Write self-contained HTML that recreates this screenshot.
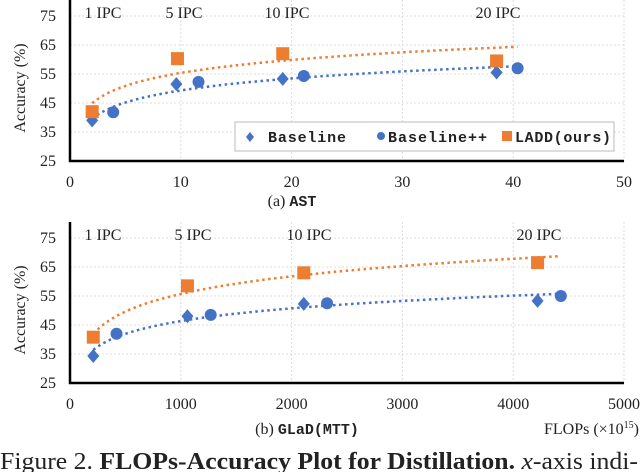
<!DOCTYPE html>
<html><head><meta charset="utf-8"><style>
html,body{margin:0;padding:0;background:#fff;width:640px;height:472px;overflow:hidden}
svg{display:block}
text{font-family:"Liberation Serif",serif;fill:#222}
.mono{font-family:"Liberation Mono",monospace;font-weight:bold}
</style></head><body>
<svg id="fig" width="640" height="472" viewBox="0 0 640 472">
<text x="0" y="469" font-size="24" textLength="638" lengthAdjust="spacingAndGlyphs">Figure 2.  <tspan font-weight="bold">FLOPs-Accuracy Plot for Distillation.</tspan>  <tspan font-style="italic">x</tspan>-axis indi-</text>
</svg>
<script>
// Chart (a) AST
const astBaseX=[2,9.6,19.2,38.5];
const astBaseY=[39,51.5,53.3,55.5];
const astPlusX=[3.9,11.6,21.1,40.4];
const astPlusY=[41.8,52.3,54.3,57];
const astLaddX=[2,9.7,19.2,38.5];
const astLaddY=[42,60.3,62,59.5];
const astXTicks=[0,10,20,30,40,50];
// Chart (b) GLaD(MTT)
const gladBaseX=[210,1060,2110,4220];
const gladBaseY=[34.3,48,52.3,53.3];
const gladPlusX=[420,1270,2320,4430];
const gladPlusY=[42,48.5,52.5,55];
const gladLaddX=[210,1060,2110,4220];
const gladLaddY=[40.8,58.5,63,66.5];
const gladXTicks=[0,1000,2000,3000,4000,5000];
const yTicks=[25,35,45,55,65,75];
const ipcLabels=["1 IPC","5 IPC","10 IPC","20 IPC"];

const NS="http://www.w3.org/2000/svg";
const svg=document.getElementById('fig');
const BLUE="#4472C4",ORANGE="#ED7D31";
function mk(tag,attrs,parent){const e=document.createElementNS(NS,tag);for(const k in attrs)e.setAttribute(k,attrs[k]);(parent||svg).appendChild(e);return e;}
function fit(xs,ys){const lx=xs.map(Math.log);const n=lx.length;const mx=lx.reduce((a,b)=>a+b)/n,my=ys.reduce((a,b)=>a+b)/n;let sxy=0,sxx=0;for(let i=0;i<n;i++){sxy+=(lx[i]-mx)*(ys[i]-my);sxx+=(lx[i]-mx)**2;}const b=sxy/sxx;return [my-b*mx,b];}

function chart(off,xmax,xT,bx,by,px,py,lx,ly,ipcX,legend,name){
  const x0=70,x1=624,yb=161+off,yt=16+off;
  const sx=v=>x0+(v/xmax)*(x1-x0);
  const sy=v=>yb-(v-25)/50*(yb-yt);
  const g=mk('g',{});
  
  
  xT.forEach(t=>{ if(t>0){const l=mk('line',{x1:sx(t),x2:sx(t),y1:off,y2:yb,stroke:'#ddd','stroke-width':1,'stroke-dasharray':'2,2'},g);}
    const tx=mk('text',{x:sx(t),y:yb+26,'font-size':16,'text-anchor':'middle'},g);tx.textContent=t;
    });
  yTicks.forEach(t=>{ if(t>25){const l=mk('line',{x1:x0,x2:x1,y1:sy(t),y2:sy(t),stroke:'#ddd','stroke-width':1,'stroke-dasharray':'2,2'},g);}
    const tx=mk('text',{x:x0-14,y:sy(t)+5,'font-size':16,'text-anchor':'end'},g);tx.textContent=t;
    });
  const ax=mk('path',{d:`M${x0},${off} L${x0},${yb} L${x1},${yb}`,fill:'none',stroke:'#000','stroke-width':2.5},g);
  
  const yt2=mk('text',{transform:`translate(25,${off+88}) rotate(-90)`,'font-size':16,'text-anchor':'middle'},g);yt2.textContent='Accuracy (%)';
  
  ipcLabels.forEach((s,i)=>{const t=mk('text',{x:ipcX[i],y:off+18,'font-size':16,'text-anchor':'middle'},g);t.textContent=s;
    });
  const allX=bx.concat(px,lx);const lo=Math.min(...allX),hi=Math.max(...allX);
  function trend(xs,ys,color,nm){const [a,b]=fit(xs,ys);let d='';for(let i=0;i<=60;i++){const v=lo+(hi-lo)*i/60;d+=(i?'L':'M')+sx(v).toFixed(1)+','+sy(a+b*Math.log(v)).toFixed(1);}
    const p=mk('path',{d,fill:'none',stroke:color,'stroke-width':2.5,'stroke-dasharray':'2.5,3.5'},g);}
  trend(bx.concat(px),by.concat(py),BLUE,'baseline-trendline');
  trend(lx,ly,ORANGE,'ladd-trendline');
  bx.forEach((v,i)=>{const X=sx(v),Y=sy(by[i]);const m=mk('polygon',{points:`${X},${Y-7} ${X+6},${Y} ${X},${Y+7} ${X-6},${Y}`,fill:BLUE},g);});
  px.forEach((v,i)=>{const m=mk('circle',{cx:sx(v),cy:sy(py[i]),r:6,fill:BLUE},g);});
  lx.forEach((v,i)=>{const m=mk('rect',{x:sx(v)-6.5,y:sy(ly[i])-6.5,width:13,height:13,fill:ORANGE},g);});
  if(legend){
    const lg=mk('g',{},g);
    mk('rect',{x:235,y:122+off,width:379,height:29,fill:'#fff',stroke:'#bbb','stroke-width':1},lg);
    const cy=137+off;
    mk('polygon',{points:`250,${cy-5} 254,${cy} 250,${cy+5} 246,${cy}`,fill:BLUE},lg);
    let t=mk('text',{x:268,y:cy+5,'font-size':15,class:'mono',textLength:78},lg);t.textContent='Baseline';
    
    mk('circle',{cx:381,cy:cy-1,r:4,fill:BLUE},lg);
    t=mk('text',{x:388,y:cy+5,'font-size':15,class:'mono',textLength:99},lg);t.textContent='Baseline++';
    
    mk('rect',{x:502,y:cy-6,width:10,height:10,fill:ORANGE},lg);
    t=mk('text',{x:515,y:cy+5,'font-size':15,class:'mono',textLength:96},lg);t.textContent='LADD(ours)';
    
  }
}
chart(0,50,astXTicks,astBaseX,astBaseY,astPlusX,astPlusY,astLaddX,astLaddY,[103,184,287,498],true,'chart-ast');
chart(222,5000,gladXTicks,gladBaseX,gladBaseY,gladPlusX,gladPlusY,gladLaddX,gladLaddY,[103,193,309,539],false,'chart-glad');
let c=mk('text',{x:292,y:206,'font-size':16,'text-anchor':'middle'});
c.innerHTML='(a) <tspan class="mono" font-size="15">AST</tspan>';


c=mk('text',{x:307,y:434,'font-size':16,'text-anchor':'middle'});
c.innerHTML='(b) <tspan class="mono" font-size="15">GLaD(MTT)</tspan>';


c=mk('text',{x:639,y:434,'font-size':16,'text-anchor':'end'});
c.innerHTML='FLOPs (×10<tspan font-size="10" dy="-6">15</tspan><tspan dy="6">)</tspan>';


</script>
</body></html>
